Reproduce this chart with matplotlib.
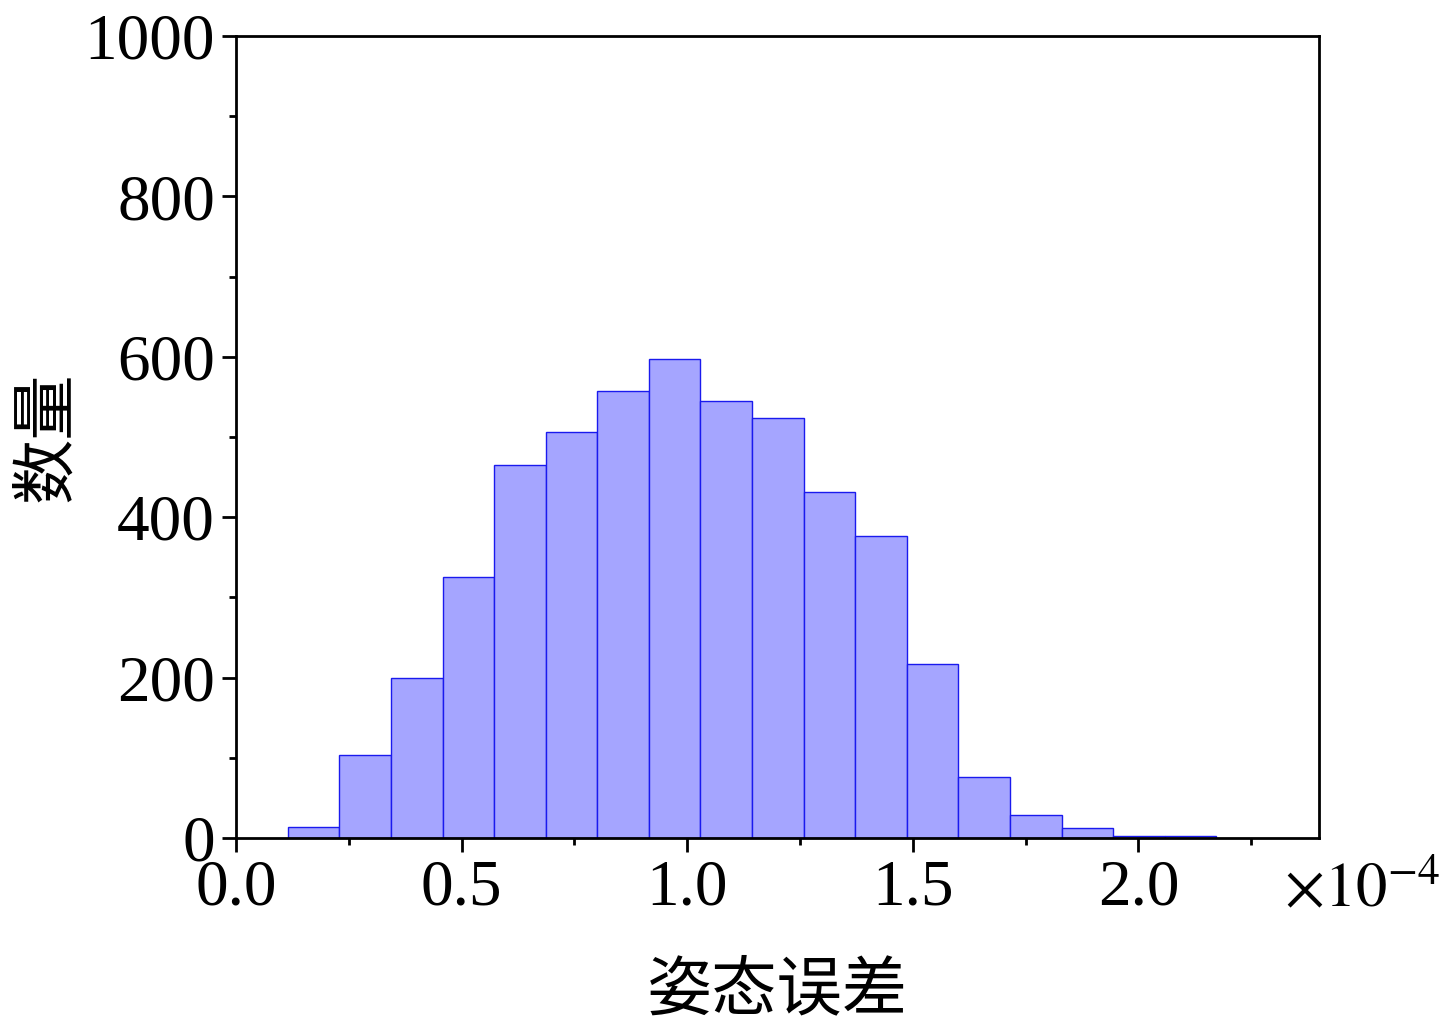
import numpy as np
import matplotlib
matplotlib.use("Agg")
import matplotlib.pyplot as plt
from matplotlib.ticker import MultipleLocator, FuncFormatter

plt.rcParams["font.family"] = ["Liberation Serif", "Noto Sans CJK SC"]
plt.rcParams["mathtext.fontset"] = "stix"

# 直方图数据 (单位 1e-4)
bin_start = 0.115
bin_width = 0.1143
counts = [14, 103, 200, 325, 465, 506, 557, 597, 545, 524, 431, 377, 217, 76, 29, 12, 2, 2]
x_label = "姿态误差"
y_label = "数量"

edges = bin_start + bin_width * np.arange(len(counts) + 1)

fig = plt.figure(figsize=(14.44, 10.34), dpi=100)
ax = fig.add_axes([0.1634, 0.1896, 0.75, 0.7756])

ax.bar(edges[:-1], counts, width=bin_width, align="edge",
       color="#a5a5ff", edgecolor="#1a1aee", linewidth=1.0)

ax.set_xlim(0, 2.4)
ax.set_ylim(0, 1000)
ax.xaxis.set_major_locator(MultipleLocator(0.5))
ax.xaxis.set_minor_locator(MultipleLocator(0.25))
ax.yaxis.set_major_locator(MultipleLocator(200))
ax.yaxis.set_minor_locator(MultipleLocator(100))
ax.xaxis.set_major_formatter(FuncFormatter(lambda v, p: f"{v:.1f}"))

ax.tick_params(which="both", direction="out", top=False, right=False,
               labelsize=47, width=2, pad=5)
ax.tick_params(which="major", length=10)
ax.tick_params(which="minor", length=5)
for s in ax.spines.values():
    s.set_linewidth(2)

# 科学计数的乘数
fig.text(0.997, 0.138, r"$\times10^{-4}$", ha="right", va="center", fontsize=45)

ax.set_xlabel(x_label, fontsize=47, labelpad=32)
ax.set_ylabel(y_label, fontsize=47)
ax.yaxis.set_label_coords(-0.145, 0.5)

fig.savefig("out.png", dpi=100, facecolor="white")
